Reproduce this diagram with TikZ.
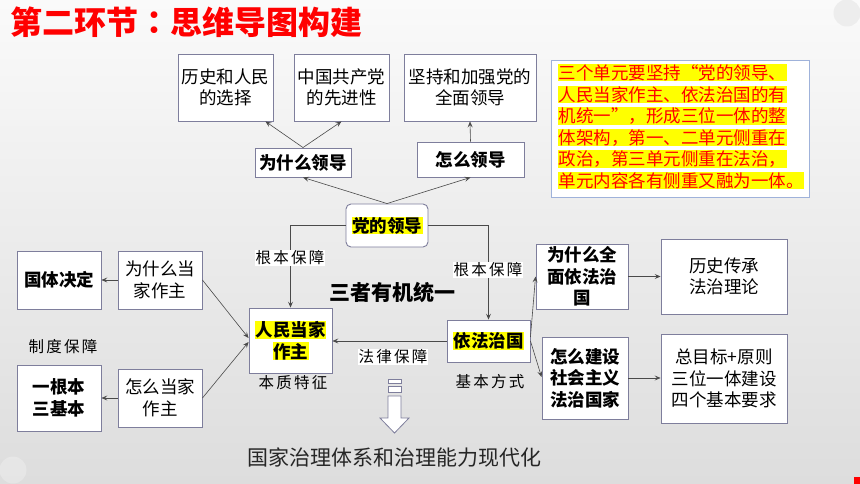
\documentclass[tikz,border=0pt]{standalone}
\usepackage{fontspec}
\setmainfont{Noto Sans CJK SC}
\newfontfamily\tcfont{Noto Sans CJK TC}
\newfontfamily\labfont[LetterSpace=14]{Noto Sans CJK SC}
\usetikzlibrary{arrows.meta,calc}
\definecolor{bordc}{HTML}{7E7E9C}
\definecolor{linec}{HTML}{4A4A4A}
\definecolor{notebord}{HTML}{9FB2DA}
\definecolor{bgtop}{HTML}{FAFAFA}
\definecolor{bgbot}{HTML}{DDDDDD}
\definecolor{hl}{HTML}{FFFF00}
\newcommand{\hlt}[1]{{\setlength{\fboxsep}{0.5pt}\colorbox{hl}{#1}}}
\newcommand{\fq}[1]{{\addfontfeature{RawFeature=+fwid}#1}}
\tikzset{
  box/.style={draw=bordc, line width=0.9pt, fill=white, inner sep=0pt, align=center,
    font=\fontsize{17.5}{21.5}\selectfont, text=black},
  bbox/.style={box, font=\fontsize{17.5}{21.5}\selectfont\bfseries},
  conn/.style={draw=linec, line width=0.6pt, -{Stealth[length=6pt,width=5pt,inset=2.5pt]}},
  lab/.style={font=\labfont\fontsize{15.5}{18}\selectfont, text=black, inner sep=1pt},
  labw/.style={lab, fill=white},
}
\begin{document}
\begin{tikzpicture}[x=1pt,y=-1pt]
\useasboundingbox (0,0) rectangle (860,484);
\shade[top color=bgtop, bottom color=bgbot] (0,0) rectangle (860,484);
\fill[color=black!7] (847,13) circle (13.5);
\fill[color=white, opacity=0.25] (13,470) circle (13.5);
\fill[red] (854,477) rectangle (860,484);
% title
\node[anchor=west, inner sep=0pt, text=red, font=\fontsize{32}{36}\selectfont\bfseries] (title) at (10,22) {第二环节{\tcfont\bfseries ：}思维导图构建};
% top boxes
\node[box, minimum width=95, minimum height=67] (hist) at (225.5,87.5) {历史和人民\\的选择};
\node[box, minimum width=95, minimum height=67] (zg) at (341.5,87.5) {中国共产党\\的先进性};
\node[box, minimum width=132, minimum height=67] (jc) at (470,87.5) {坚持和加强党的\\全面领导};
\node[bbox, minimum width=96, minimum height=29] (wsmld) at (303,162.5) {为什么领导};
\node[bbox, minimum width=107, minimum height=35] (zmld) at (470.5,159.5) {怎么领导};
\node[bbox, minimum width=82, minimum height=43, rounded corners=5pt] (dl) at (387,225.5) {\hlt{党的领导}};
% note
\node[draw=notebord, line width=0.9pt, fill=white, minimum width=258, minimum height=137, inner sep=0pt] (note) at (680,128.5) {};
\node[anchor=north west, inner sep=0pt, align=left, text=red, font=\fontsize{17.5}{21.5}\selectfont] (notetext) at (558,64) {\hlt{三个单元要坚持\fq{“}党的领导、}\\\hlt{人民当家作主、依法治国的有}\\\hlt{机统一\fq{”}，形成三位一体的整}\\\hlt{体架构，第一、二单元侧重在}\\\hlt{政治，第三单元侧重在法治，}\\\hlt{单元内容各有侧重又融为一体。}};
% middle
\node[bbox, minimum width=83, minimum height=65] (rm) at (290.5,340.5) {\hlt{人民当家}\\\hlt{作主}};
\node[bbox, minimum width=83, minimum height=42] (yf) at (488.5,341) {\hlt{依法治国}};
\node[bbox, minimum width=84, minimum height=58] (gt) at (59,280) {国体决定};
\node[box, minimum width=84, minimum height=58] (wsmdj) at (160,280) {为什么当\\家作主};
\node[bbox, minimum width=84, minimum height=66] (ygb) at (59,398) {一根本\\三基本};
\node[box, minimum width=84, minimum height=58] (zmdj) at (160,398) {怎么当家\\作主};
\node[bbox, minimum width=92, minimum height=65] (wsmqm) at (582,276.5) {为什么全\\面依法治\\国};
\node[bbox, minimum width=86, minimum height=82] (zmjs) at (585,378) {怎么建设\\社会主义\\法治国家};
\node[box, minimum width=126, minimum height=75] (lscc) at (724,276.5) {历史传承\\法治理论};
\node[box, minimum width=126, minimum height=89] (zmb) at (724,378.5) {总目标+原则\\三位一体建设\\四个基本要求};
% connectors
\draw[conn] (wsmld.north) -- ($(hist.south east)+(-8,0)$);
\draw[conn] (wsmld.north) -- (zg.south);
\draw[conn] (zmld.north) -- (jc.south);
\draw[conn] (dl.north) -- (wsmld.south);
\draw[conn] (dl.north) -- (zmld.south);
\draw[conn] (dl.west) -| (rm.north);
\draw[conn] (dl.east) -| (yf.north);
\draw[conn] (yf.west) -- (yf.west -| rm.east);
\draw[conn] (wsmdj.east) -- ($(rm.west)+(0,-2.5)$);
\draw[conn] (zmdj.east) -- ($(rm.west)+(0,1.5)$);
\draw[conn] (wsmdj.west) -- (gt.east);
\draw[conn] (zmdj.west) -- (ygb.east);
\draw[conn] ($(yf.east)+(0,-4)$) -- (wsmqm.west);
\draw[conn] (yf.east) -- ($(zmjs.west)+(0,-1)$);
\draw[conn] (wsmqm.east) -- (wsmqm.east -| lscc.west);
\draw[conn] (zmjs.east) -- (zmjs.east -| zmb.west);
% labels
\node[labw] (l1) at (290,258) {根本保障};
\node[labw] (l2) at (488,270) {根本保障};
\node[labw] (l3) at (393,357) {法律保障};
\node[lab] (l4) at (293,383) {本质特征};
\node[lab] (l5) at (490,382) {基本方式};
\node[lab] (l6) at (63,347) {制度保障};
\node[inner sep=0pt, font=\fontsize{21}{24}\selectfont\bfseries] (sz) at (392,292) {三者有机统一};
\node[inner sep=0pt, text=black!85, font=\fontsize{21}{24}\selectfont] (gj) at (394,457) {国家治理体系和治理能力现代化};
% hollow arrow
\begin{scope}[draw=bordc, fill=white, line width=0.8pt]
\filldraw (388,379) rectangle (401,383.5);
\filldraw (388,386.5) rectangle (401,392);
\filldraw (388,396) -- (401,396) -- (401,418) -- (409,418) -- (394.5,433) -- (380,418) -- (388,418) -- cycle;
\end{scope}
\end{tikzpicture}
\end{document}
